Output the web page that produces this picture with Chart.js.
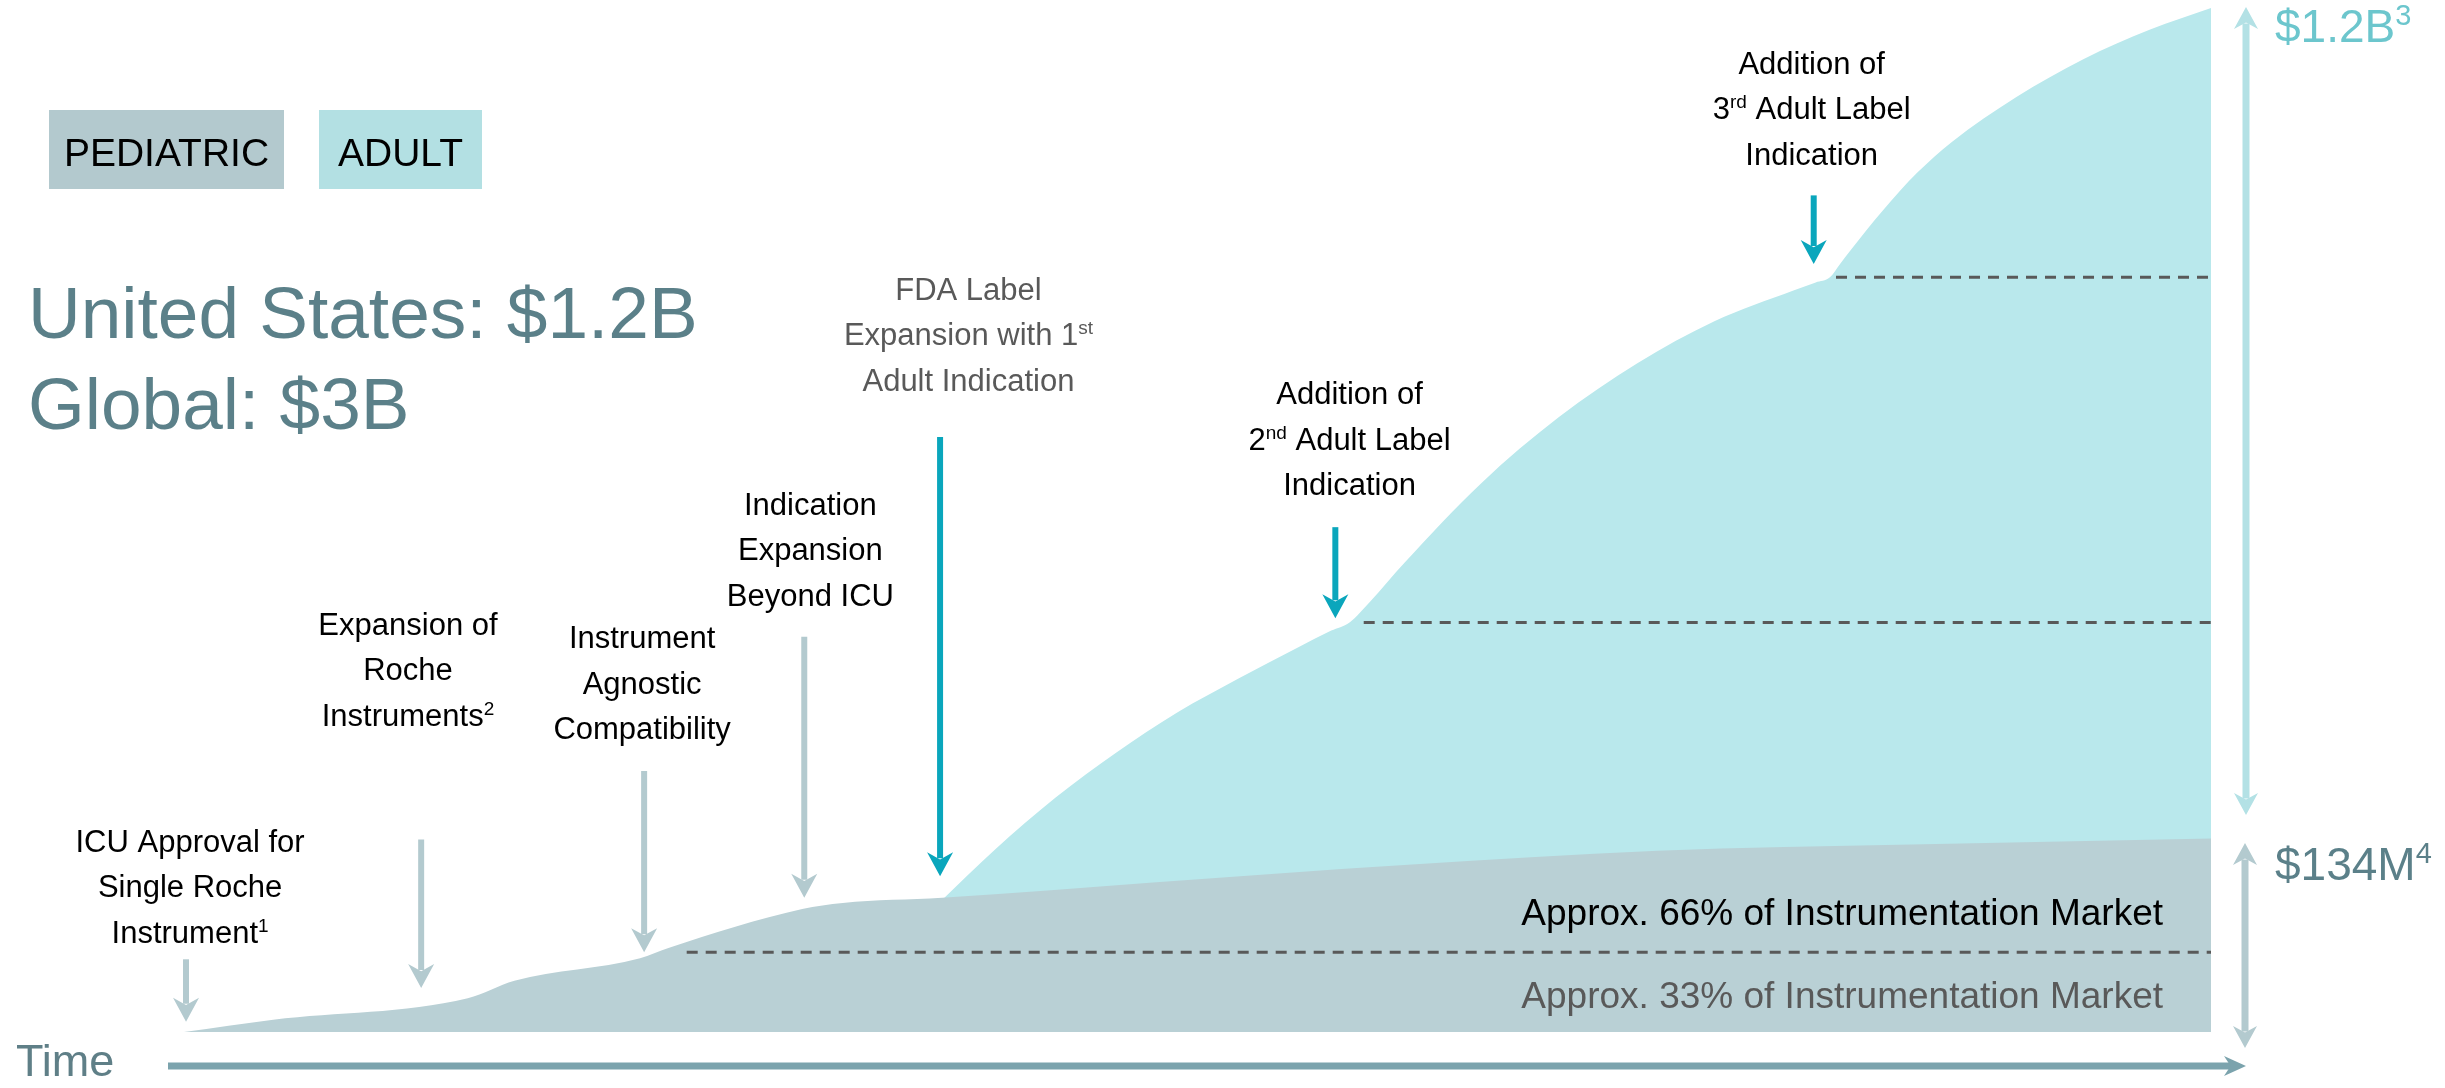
<!DOCTYPE html>
<html>
<head>
<meta charset="utf-8">
<script src="https://cdn.jsdelivr.net/npm/chart.js@4.4.1/dist/chart.umd.min.js"></script>
<style>
    html, body { margin: 0; padding: 0; background: #ffffff; overflow: hidden; }
    #grafico { display: block; }
</style>
</head>
<body>
<canvas id="grafico" width="2445" height="1088"></canvas>
<script>

// time runs 0..100 along the axis, market size is a relative index 0..100
const tempoPediatrico = [0, 4.4, 14.0, 16.3, 22.5, 23.9, 30.5, 32.5, 37.4, 47.8, 60.2, 72.7, 85.2, 100];
const mercadoPediatrico = [0, 1.2, 3.3, 5.0, 7.2, 8.2, 12.0, 12.6, 13.1, 14.6, 16.3, 17.7, 18.3, 18.9];

const tempoAdulto = [37.4, 40.0, 43.0, 46.0, 49.0, 52.0, 55.0, 56.6, 57.5, 58.5, 60.2, 64.0, 67.8, 71.7, 75.5, 79.4, 80.5, 81.2, 81.7, 82.2, 83.8, 85.5, 87.2, 90.4, 93.7, 97.0, 100];
const mercadoAdulto = [12.9, 17.8, 22.9, 27.3, 31.2, 34.5, 37.6, 39.2, 40.0, 42.0, 45.8, 53.6, 60.0, 65.3, 69.4, 72.4, 73.2, 73.7, 75.0, 76.3, 80.2, 83.9, 86.9, 91.3, 95.0, 97.9, 100];

const segmentos = ['PEDIATRIC', 'ADULT'];

// milestones: where each arrow sits on the time axis and the text above it
const marcosTempo = [0.1, 11.7, 22.7, 30.6, 37.3, 56.8, 80.4];
const marcosTopo = [7.1, 18.8, 25.5, 38.6, 58.1, 49.3, 81.7];
const marcosPonta = [1.0, 4.3, 7.8, 13.1, 15.2, 40.4, 75.0];
const marcosTexto = [
    ['ICU Approval for', 'Single Roche', 'Instrument^{1}'],
    ['Expansion of', 'Roche', 'Instruments^{2}'],
    ['Instrument', 'Agnostic', 'Compatibility'],
    ['Indication', 'Expansion', 'Beyond ICU'],
    ['FDA Label', 'Expansion with 1^{st}', 'Adult Indication'],
    ['Addition of', '2^{nd} Adult Label', 'Indication'],
    ['Addition of', '3^{rd} Adult Label', 'Indication']
];

// dashed share levels
const niveisTracejado = [7.8, 40.0, 73.7];
const inicioTracejado = [24.8, 58.2, 81.5];
const textosParticipacao = ['Approx. 66% of Instrumentation Market', 'Approx. 33% of Instrumentation Market'];

const manchete = ['United States: $1.2B', 'Global: $3B'];
const totalGeral = '$1.2B^{3}';
const totalPediatrico = '$134M^{4}';
const rotuloTempo = 'Time';

// ---- layout / style ----
const FONTE = '"Liberation Sans", Arial, Helvetica, sans-serif';
const corPediatrico = '#b9d0d5';
const corAdulto = '#b9e8ec';
const corSetaPediatrico = '#b3cacf';
const corSetaAdulto = '#0aa6bc';
const corTitulo = '#5b8089';

// first baseline of each milestone label (value units) and its centre on the time axis
const textoX = [0.3, 11.05, 22.6, 30.9, 38.7, 57.5, 80.3];
const textoY = [17.6, 38.8, 37.5, 50.5, 71.5, 61.3, 93.6];
const textoCor = ['#000', '#000', '#000', '#000', '#595959', '#000', '#000'];
const setaCor = [corSetaPediatrico, corSetaPediatrico, corSetaPediatrico, corSetaPediatrico, corSetaAdulto, corSetaAdulto, corSetaAdulto];

function linhaRica(ctx, texto, x, y, tamanho, cor, alinhar) {
    const partes = [];
    const re = /\^\{([^}]*)\}/g;
    let ultimo = 0, m;
    while ((m = re.exec(texto))) {
        if (m.index > ultimo) partes.push({ t: texto.slice(ultimo, m.index), sup: false });
        partes.push({ t: m[1], sup: true });
        ultimo = re.lastIndex;
    }
    if (ultimo < texto.length) partes.push({ t: texto.slice(ultimo), sup: false });

    const fNormal = tamanho + 'px ' + FONTE;
    const fSup = Math.round(tamanho * 0.62) + 'px ' + FONTE;
    let largura = 0;
    partes.forEach((p) => {
        ctx.font = p.sup ? fSup : fNormal;
        p.w = ctx.measureText(p.t).width;
        largura += p.w;
    });
    let cx = x;
    if (alinhar === 'center') cx = x - largura / 2;
    if (alinhar === 'right') cx = x - largura;
    ctx.fillStyle = cor;
    ctx.textAlign = 'left';
    ctx.textBaseline = 'alphabetic';
    partes.forEach((p) => {
        ctx.font = p.sup ? fSup : fNormal;
        ctx.fillText(p.t, cx, p.sup ? y - tamanho * 0.36 : y);
        cx += p.w;
    });
}

function cabeca(ctx, x, y, dx, dy, larg, comp, cor) {
    // stealth arrow head with tip at (x, y) pointing along (dx, dy)
    const nx = -dy, ny = dx;
    ctx.fillStyle = cor;
    ctx.beginPath();
    ctx.moveTo(x, y);
    ctx.lineTo(x - dx * comp + nx * larg / 2, y - dy * comp + ny * larg / 2);
    ctx.lineTo(x - dx * comp * 0.7, y - dy * comp * 0.7);
    ctx.lineTo(x - dx * comp - nx * larg / 2, y - dy * comp - ny * larg / 2);
    ctx.closePath();
    ctx.fill();
}

function seta(ctx, x, y1, y2, cor, esp, larg, comp) {
    const d = y2 > y1 ? 1 : -1;
    ctx.strokeStyle = cor;
    ctx.lineWidth = esp;
    ctx.beginPath();
    ctx.moveTo(x, y1);
    ctx.lineTo(x, y2 - d * comp * 0.75);
    ctx.stroke();
    cabeca(ctx, x, y2, 0, d, larg, comp, cor);
}

function setaDupla(ctx, x, y1, y2, cor, esp, larg, comp) {
    ctx.strokeStyle = cor;
    ctx.lineWidth = esp;
    ctx.beginPath();
    ctx.moveTo(x, y1 + comp * 0.75);
    ctx.lineTo(x, y2 - comp * 0.75);
    ctx.stroke();
    cabeca(ctx, x, y1, 0, -1, larg, comp, cor);
    cabeca(ctx, x, y2, 0, 1, larg, comp, cor);
}

const anotacoes = {
    id: 'anotacoes',
    afterDraw(chart) {
        const { ctx, chartArea: area, scales: { x, y } } = chart;
        ctx.save();

        // dashed share lines
        ctx.setLineDash([11, 8]);
        ctx.strokeStyle = '#595959';
        ctx.lineWidth = 3;
        niveisTracejado.forEach((nivel, i) => {
            ctx.beginPath();
            ctx.moveTo(x.getPixelForValue(inicioTracejado[i]), y.getPixelForValue(nivel));
            ctx.lineTo(area.right, y.getPixelForValue(nivel));
            ctx.stroke();
        });
        ctx.setLineDash([]);

        linhaRica(ctx, textosParticipacao[0], area.right - 48, 925, 37, '#000', 'right');
        linhaRica(ctx, textosParticipacao[1], area.right - 48, 1008, 37, '#595959', 'right');

        // milestones
        marcosTempo.forEach((t, i) => {
            const px = x.getPixelForValue(t);
            seta(ctx, px, y.getPixelForValue(marcosTopo[i]), y.getPixelForValue(marcosPonta[i]), setaCor[i], 6, 26, 24);
            const cx = x.getPixelForValue(textoX[i]);
            const by = y.getPixelForValue(textoY[i]);
            marcosTexto[i].forEach((linha, j) => {
                linhaRica(ctx, linha, cx, by + j * 45.5, 31, textoCor[i], 'center');
            });
        });

        // totals on the right
        const colX = area.right + 35;
        setaDupla(ctx, colX, area.top - 1, 815, '#b3e1e5', 7, 24, 22);
        setaDupla(ctx, colX - 1, 843, 1048, corSetaPediatrico, 7, 24, 22);
        linhaRica(ctx, totalGeral, colX + 29, 42, 46, '#6cc6cd', 'left');
        linhaRica(ctx, totalPediatrico, colX + 29, 880, 46, corTitulo, 'left');

        // time axis
        const ty = 1066;
        ctx.strokeStyle = '#7ba3ad';
        ctx.lineWidth = 7;
        ctx.beginPath();
        ctx.moveTo(168, ty);
        ctx.lineTo(colX - 14, ty);
        ctx.stroke();
        cabeca(ctx, colX, ty, 1, 0, 20, 22, '#7ba3ad');
        linhaRica(ctx, rotuloTempo, 16, 1076, 45, '#5f7f87', 'left');

        // legend boxes
        const caixas = [
            { x: 49, w: 235, cor: '#b3c9ce' },
            { x: 319, w: 163, cor: '#b3e0e3' }
        ];
        segmentos.forEach((nome, i) => {
            ctx.fillStyle = caixas[i].cor;
            ctx.fillRect(caixas[i].x, 110, caixas[i].w, 79);
            linhaRica(ctx, nome, caixas[i].x + caixas[i].w / 2, 166, 39, '#000', 'center');
        });

        // headline
        linhaRica(ctx, manchete[0], 28, 338, 73, corTitulo, 'left');
        linhaRica(ctx, manchete[1], 28, 429, 73, corTitulo, 'left');

        ctx.restore();
    }
};

window.onload = function () {

    const grafico = document.getElementById('grafico');

    new Chart(grafico, {
        type: 'line',
        data: {
            datasets: [{
                label: segmentos[0],
                data: tempoPediatrico.map((t, i) => ({ x: t, y: mercadoPediatrico[i] })),
                backgroundColor: corPediatrico,
                borderWidth: 0,
                pointRadius: 0,
                fill: 'origin',
                cubicInterpolationMode: 'monotone'
            }, {
                label: segmentos[1],
                data: tempoAdulto.map((t, i) => ({ x: t, y: mercadoAdulto[i] })),
                backgroundColor: corAdulto,
                borderWidth: 0,
                pointRadius: 0,
                fill: 'origin',
                cubicInterpolationMode: 'monotone'
            }]
        },
        options: {
            responsive: false,
            animation: false,
            devicePixelRatio: 1,
            layout: { padding: { left: 184, right: 234, top: 8, bottom: 56 } },
            scales: {
                x: { type: 'linear', min: 0, max: 100, display: false },
                y: { min: 0, max: 100, display: false }
            },
            plugins: {
                legend: { display: false },
                tooltip: { enabled: false }
            }
        },
        plugins: [anotacoes]
    });

}
</script>
</body>
</html>
